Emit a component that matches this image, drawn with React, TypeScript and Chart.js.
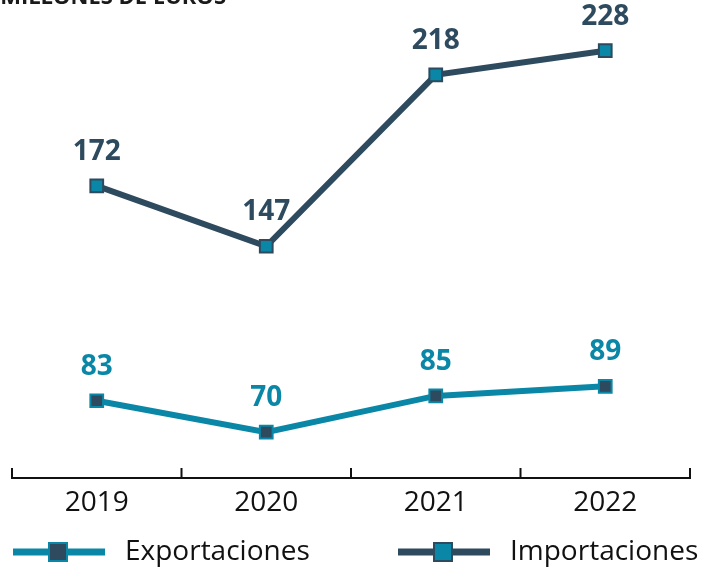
import React, { useEffect, useRef } from "react";
import { Chart, registerables } from "chart.js";

Chart.register(...registerables);

const categories = ["2019", "2020", "2021", "2022"];
const exportaciones = [83, 70, 85, 89];
const importaciones = [172, 147, 218, 228];
const seriesNames = ["Exportaciones", "Importaciones"];
const titleText = "MILLONES DE EUROS";

const TEAL = "#0a87a6";
const SLATE = "#2d4a5e";
const FONT = "'Open Sans', 'Noto Sans', sans-serif";

const overlay = {
  id: "overlay",
  afterDatasetsDraw(chart: any) {
    const ctx = chart.ctx;
    const x = chart.scales.x;
    const area = chart.chartArea;
    ctx.save();
    // title (clipped at top)
    ctx.fillStyle = "#1a1a1a";
    ctx.font = `bold 22px ${FONT}`;
    ctx.textAlign = "right";
    ctx.textBaseline = "alphabetic";
    ctx.fillText(titleText, 226, 4);

    // data labels
    ctx.font = `bold 28px ${FONT}`;
    ctx.textAlign = "center";
    ctx.textBaseline = "middle";
    chart.data.datasets.forEach((ds: any, i: number) => {
      const meta = chart.getDatasetMeta(i);
      ctx.fillStyle = ds.borderColor;
      meta.data.forEach((pt: any, j: number) => {
        ctx.fillText(String(ds.data[j]), pt.x, pt.y - 34);
      });
    });

    // x axis line + ticks
    const yAxis = area.bottom;
    ctx.strokeStyle = "#111";
    ctx.lineWidth = 2;
    ctx.beginPath();
    ctx.moveTo(area.left, yAxis);
    ctx.lineTo(area.right, yAxis);
    const n = categories.length;
    for (let k = 0; k <= n; k++) {
      const tx = k === 0 ? area.left : k === n ? area.right : (x.getPixelForValue(k - 1) + x.getPixelForValue(k)) / 2;
      ctx.moveTo(tx, yAxis - 10);
      ctx.lineTo(tx, yAxis + 1);
    }
    ctx.stroke();
    ctx.fillStyle = "#111";
    ctx.font = `28px ${FONT}`;
    categories.forEach((c, k) => {
      ctx.fillText(c, x.getPixelForValue(k), yAxis + 25);
    });

    // legend
    const ly = 552;
    const items = [
      { name: seriesNames[0], line: TEAL, fill: SLATE, x0: 13 },
      { name: seriesNames[1], line: SLATE, fill: TEAL, x0: 398 },
    ];
    items.forEach((it) => {
      ctx.strokeStyle = it.line;
      ctx.lineWidth = 7;
      ctx.beginPath();
      ctx.moveTo(it.x0, ly);
      ctx.lineTo(it.x0 + 92, ly);
      ctx.stroke();
      ctx.fillStyle = it.fill;
      ctx.fillRect(it.x0 + 36, ly - 9, 18, 18);
      ctx.lineWidth = 2;
      ctx.strokeStyle = it.line;
      ctx.strokeRect(it.x0 + 36, ly - 9, 18, 18);
      ctx.fillStyle = "#111";
      ctx.textAlign = "left";
      ctx.font = `28px ${FONT}`;
      ctx.fillText(it.name, it.x0 + 112, ly);
    });
    ctx.restore();
  },
};

export default function App() {
  const ref = useRef<HTMLCanvasElement>(null);
  useEffect(() => {
    document.body.style.margin = "0";
    const chart = new Chart(ref.current!, {
      type: "line",
      data: {
        labels: categories,
        datasets: [
          {
            label: seriesNames[0],
            data: exportaciones,
            borderColor: TEAL,
            backgroundColor: SLATE,
            borderWidth: 6,
            pointStyle: "rect",
            pointRadius: 9,
            pointBorderWidth: 2,
            pointBorderColor: TEAL,
            pointBackgroundColor: SLATE,
            clip: false as any,
          },
          {
            label: seriesNames[1],
            data: importaciones,
            borderColor: SLATE,
            backgroundColor: TEAL,
            borderWidth: 6,
            pointStyle: "rect",
            pointRadius: 9,
            pointBorderWidth: 2,
            pointBorderColor: SLATE,
            pointBackgroundColor: TEAL,
            clip: false as any,
          },
        ],
      },
      options: {
        animation: false,
        responsive: false,
        maintainAspectRatio: false,
        layout: { autoPadding: false, padding: { left: 12, right: 12, top: 0, bottom: 89 } },
        plugins: { legend: { display: false }, tooltip: { enabled: false } },
        scales: {
          x: { type: "category", offset: true, display: false },
          y: { min: 51, max: 249, display: false },
        },
      },
      plugins: [overlay],
    });
    return () => chart.destroy();
  }, []);
  return (
    <div style={{ position: "absolute", left: 0, top: 0, width: 702, height: 567, background: "#fff" }}>
      <canvas ref={ref} width={702} height={567} style={{ width: 702, height: 567 }} />
    </div>
  );
}
